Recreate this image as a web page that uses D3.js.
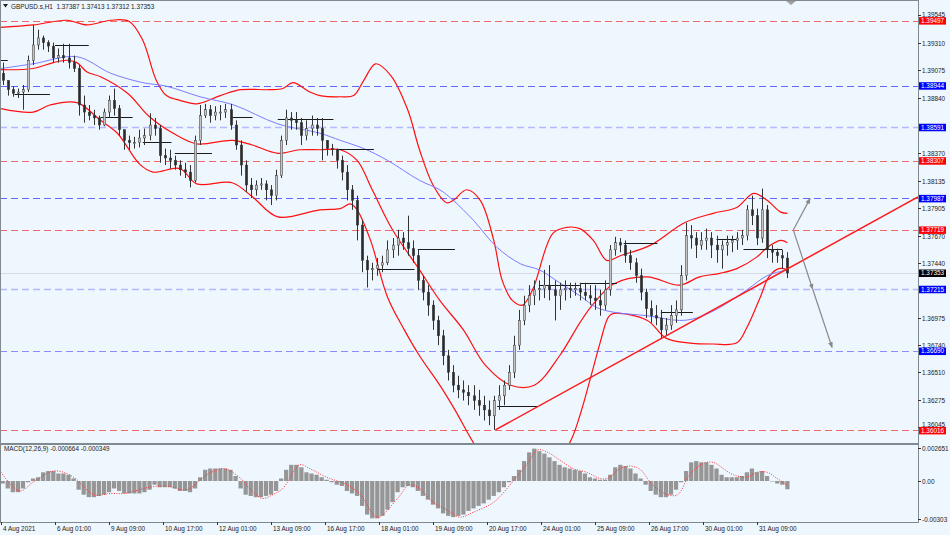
<!DOCTYPE html>
<html><head><meta charset="utf-8">
<script src="https://cdn.jsdelivr.net/npm/d3@7"></script>
<style>
body{margin:0;background:#eef6fe;}
text{font-family:"Liberation Sans",Arial,sans-serif;}
</style>
</head><body>
<svg id="c" width="950" height="535"></svg>
<script>
// ---------------- DATA ----------------
const symbolTitle = "GBPUSD.s,H1";
const titleValues = "1.37387 1.37413 1.37312 1.37353";
const macdTitle = "MACD(12,26,9) -0.000664 -0.000349";

// time axis labels, every 32 H1 bars
const timeLabels = ["4 Aug 2021","6 Aug 01:00","9 Aug 09:00","10 Aug 17:00","12 Aug 01:00","13 Aug 09:00","16 Aug 17:00","18 Aug 01:00","19 Aug 09:00","20 Aug 17:00","24 Aug 01:00","25 Aug 09:00","26 Aug 17:00","30 Aug 01:00","31 Aug 09:00"];
const timeLabelBars = [0,32,64,96,128,160,192,224,256,288,320,352,384,416,448];

// price axis (labels hidden behind level boxes in the reference are left out)
const priceTicks = [1.39545,1.39310,1.39075,1.38840,1.38370,1.38135,1.37905,1.37670,1.37440,1.36975,1.36740,1.36510,1.36275,1.36045];
const macdTicks = [0.002651,0.00,-0.00303];
const macdTickLabels = ["0.002651","0.00","-0.00303"];

// candles (3-hour groups), prices
const firstOpen = 1.3905;
const candleHigh = [
1.3914,1.3897,1.3894,1.3892,1.3895,1.3920,1.3946,1.3942,1.3937,1.3933,
1.3931,1.3926,1.3930,1.3930,1.3920,1.3912,1.3886,1.3878,1.3874,1.3869,
1.3875,1.3886,1.3892,1.3878,1.3857,1.3852,1.3851,1.3857,1.3858,1.3871,
1.3867,1.3861,1.3841,1.3840,1.3835,1.3831,1.3829,1.3827,1.3852,1.3878,
1.3879,1.3878,1.3877,1.3878,1.3879,1.3879,1.3865,1.3848,1.3831,1.3816,
1.3814,1.3816,1.3814,1.3810,1.3823,1.3852,1.3874,1.3872,1.3872,1.3867,
1.3865,1.3869,1.3867,1.3867,1.3848,1.3845,1.3841,1.3835,1.3827,1.3810,
1.3801,1.3780,1.3750,1.3744,1.3748,1.3750,1.3763,1.3765,1.3772,1.3770,
1.3784,1.3763,1.3755,1.3733,1.3725,1.3712,1.3699,1.3687,1.3670,1.3657,
1.3648,1.3644,1.3640,1.3640,1.3636,1.3631,1.3627,1.3631,1.3640,1.3644,
1.3657,1.3682,1.3704,1.3716,1.3725,1.3729,1.3729,1.3738,1.3742,1.3729,
1.3727,1.3729,1.3727,1.3727,1.3727,1.3727,1.3725,1.3725,1.3721,1.3729,
1.3759,1.3766,1.3765,1.3763,1.3755,1.3748,1.3739,1.3722,1.3712,1.3708,
1.3704,1.3697,1.3708,1.3712,1.3742,1.3778,1.3776,1.3770,1.3770,1.3773,
1.3770,1.3767,1.3763,1.3767,1.3767,1.3770,1.3772,1.3793,1.3801,1.3790,
1.3807,1.3793,1.3759,1.3756,1.3755,1.3753];
const candleLow = [
1.3895,1.3886,1.3885,1.3884,1.3874,1.3889,1.3912,1.3925,1.3925,1.3923,
1.3914,1.3914,1.3914,1.3909,1.3906,1.3869,1.3863,1.3865,1.3861,1.3857,
1.3860,1.3867,1.3869,1.3852,1.3840,1.3840,1.3841,1.3842,1.3844,1.3848,
1.3852,1.3829,1.3827,1.3824,1.3823,1.3818,1.3816,1.3808,1.3812,1.3844,
1.3867,1.3863,1.3865,1.3865,1.3867,1.3857,1.3840,1.3818,1.3804,1.3799,
1.3801,1.3806,1.3797,1.3793,1.3797,1.3816,1.3844,1.3857,1.3857,1.3844,
1.3848,1.3852,1.3852,1.3831,1.3835,1.3835,1.3824,1.3814,1.3797,1.3789,
1.3763,1.3736,1.3723,1.3729,1.3733,1.3736,1.3742,1.3748,1.3750,1.3755,
1.3750,1.3744,1.3721,1.3712,1.3699,1.3687,1.3674,1.3657,1.3644,1.3634,
1.3629,1.3627,1.3623,1.3619,1.3614,1.3610,1.3606,1.3602,1.3619,1.3623,
1.3636,1.3646,1.3670,1.3691,1.3702,1.3708,1.3712,1.3714,1.3712,1.3695,
1.3704,1.3712,1.3714,1.3716,1.3712,1.3712,1.3708,1.3704,1.3699,1.3704,
1.3716,1.3750,1.3753,1.3744,1.3738,1.3727,1.3712,1.3697,1.3693,1.3691,
1.3680,1.3682,1.3687,1.3693,1.3699,1.3729,1.3756,1.3748,1.3755,1.3755,
1.3748,1.3744,1.3739,1.3750,1.3753,1.3755,1.3759,1.3763,1.3776,1.3759,
1.3761,1.3748,1.3744,1.3744,1.3739,1.3731];
const candleClose = [
1.3899,1.3891,1.3888,1.3889,1.3891,1.3916,1.3929,1.3935,1.3931,1.3928,
1.3918,1.3920,1.3918,1.3914,1.3909,1.3878,1.3872,1.3869,1.3867,1.3861,
1.3872,1.3882,1.3875,1.3857,1.3848,1.3846,1.3846,1.3850,1.3852,1.3861,
1.3858,1.3835,1.3833,1.3831,1.3827,1.3823,1.3821,1.3814,1.3848,1.3869,
1.3874,1.3869,1.3872,1.3872,1.3874,1.3861,1.3844,1.3827,1.3810,1.3806,
1.3810,1.3811,1.3806,1.3801,1.3818,1.3848,1.3867,1.3865,1.3863,1.3852,
1.3858,1.3861,1.3858,1.3848,1.3841,1.3840,1.3831,1.3821,1.3806,1.3797,
1.3776,1.3746,1.3738,1.3739,1.3742,1.3744,1.3755,1.3759,1.3765,1.3761,
1.3756,1.3750,1.3729,1.3719,1.3708,1.3695,1.3682,1.3665,1.3651,1.3640,
1.3636,1.3634,1.3631,1.3627,1.3623,1.3619,1.3614,1.3627,1.3631,1.3640,
1.3651,1.3674,1.3695,1.3708,1.3716,1.3721,1.3722,1.3725,1.3721,1.3716,
1.3721,1.3722,1.3721,1.3722,1.3719,1.3716,1.3714,1.3712,1.3708,1.3721,
1.3755,1.3761,1.3759,1.3750,1.3744,1.3733,1.3719,1.3705,1.3699,1.3697,
1.3687,1.3691,1.3699,1.3704,1.3733,1.3767,1.3765,1.3759,1.3763,1.3765,
1.3759,1.3755,1.3759,1.3761,1.3763,1.3765,1.3767,1.3789,1.3784,1.3765,
1.3789,1.3755,1.3753,1.3750,1.3748,1.37353];

// MACD main (histogram) per candle group
const macdHist = [
-0.0002,-0.0006,-0.0009,-0.0009,-0.0006,-0.0001,0.0002,0.0003,0.0007,0.0008,
0.0008,0.0006,0.0006,0.0005,0.0002,-0.0007,-0.0011,-0.0013,-0.0013,-0.0012,
-0.0011,-0.0009,-0.0006,-0.0008,-0.001,-0.001,-0.001,-0.001,-0.0009,-0.0007,
-0.0003,-0.0005,-0.0005,-0.0005,-0.0006,-0.0008,-0.0008,-0.0009,-0.0006,0.0003,
0.0009,0.001,0.001,0.001,0.001,0.0009,0.0004,-0.0006,-0.0011,-0.0012,
-0.0013,-0.0013,-0.0012,-0.0011,-0.0008,0.0002,0.0009,0.0013,0.0013,0.0011,
0.0007,0.0006,0.0005,0.0003,0.0001,-0.0001,-0.0003,-0.0004,-0.0008,-0.001,
-0.0012,-0.002,-0.0027,-0.003,-0.003,-0.0028,-0.0023,-0.0017,-0.0009,-0.0005,
-0.0004,-0.0005,-0.0008,-0.0012,-0.0015,-0.0019,-0.0022,-0.0026,-0.0028,-0.0029,
-0.0028,-0.0027,-0.0024,-0.0022,-0.002,-0.0018,-0.0015,-0.0012,-0.0009,-0.0005,
-0.0001,0.0004,0.0009,0.0016,0.0023,0.0026,0.0024,0.0022,0.0019,0.0016,
0.0013,0.0011,0.001,0.0009,0.0008,0.0006,0.0003,0.0002,0.0001,0.0001,
0.0005,0.0011,0.0013,0.0012,0.001,0.0006,0.0002,-0.0003,-0.0008,-0.0011,
-0.0013,-0.0013,-0.0011,-0.0007,-0.0001,0.0008,0.0015,0.0016,0.0015,0.0015,
0.0013,0.001,0.0005,0.0003,0.0003,0.0003,0.0004,0.0007,0.001,0.0007,
0.0008,0.0004,0.0,-0.0002,-0.0003,-0.000664];

// MACD signal [bar, value]
const macdSignal = [[0,0.0007],[11,-0.0008],[19,-0.0001],[31,0.0008],[39,0.0006],[45,0.0001],[55,-0.0011],[65,-0.001],[73,-0.001],[88,-0.0005],[98,-0.0004],[110,-0.0007],[122,0.0005],[132,0.001],[142,0.0002],[148,-0.0007],[155,-0.0014],[161,-0.0011],[167,-0.0006],[177,0.0013],[183,0.001],[193,0.0003],[205,-0.0003],[213,-0.0011],[223,-0.0029],[235,-0.0014],[242,-0.0003],[248,-0.0006],[256,-0.0017],[264,-0.0023],[272,-0.0029],[280,-0.0025],[292,-0.0017],[303,-0.0001],[312,0.0014],[318,0.0025],[324,0.0023],[331,0.0017],[339,0.001],[347,0.0007],[355,0.0002],[359,0.0002],[367,0.001],[373,0.0012],[379,0.0009],[386,-0.0003],[395,-0.0011],[401,-0.0011],[408,0.0005],[416,0.0014],[422,0.0015],[428,0.001],[434,0.0005],[442,0.0003],[448,0.0007],[454,0.0007],[460,0.0002],[466,-0.000349]];

// Bollinger bands [bar, price]
const bbUpper = [[0,1.3944],[19,1.3946],[39,1.3950],[51,1.3946],[65,1.3950],[76,1.3949],[84,1.3933],[92,1.3899],[98,1.3886],[106,1.3882],[116,1.3879],[130,1.3886],[142,1.3891],[159,1.3891],[167,1.3892],[173,1.3897],[183,1.3889],[189,1.3886],[201,1.3885],[209,1.3886],[215,1.3899],[222,1.3913],[231,1.3903],[241,1.3874],[248,1.3840],[256,1.3810],[264,1.3795],[268,1.3797],[276,1.3806],[284,1.3797],[292,1.3763],[297,1.3729],[303,1.3712],[309,1.3708],[315,1.3721],[327,1.3769],[335,1.3774],[343,1.3773],[351,1.3763],[359,1.3746],[367,1.3750],[385,1.3759],[405,1.3778],[422,1.3786],[436,1.3791],[446,1.3803],[454,1.3797],[462,1.3787],[466,1.3786]];
const bbMiddle = [[0,1.3908],[19,1.3909],[31,1.3914],[39,1.3916],[45,1.3914],[51,1.3906],[59,1.3902],[75,1.3888],[88,1.3868],[102,1.3854],[116,1.3845],[137,1.3848],[149,1.3844],[164,1.3837],[177,1.3840],[189,1.3840],[201,1.3840],[211,1.3831],[220,1.3806],[232,1.3772],[248,1.3738],[260,1.3712],[274,1.3687],[287,1.3657],[302,1.3640],[316,1.3640],[331,1.3665],[343,1.3693],[351,1.3709],[363,1.3726],[383,1.3732],[402,1.3725],[414,1.3732],[426,1.3735],[436,1.3739],[448,1.3749],[454,1.3757],[462,1.3763],[466,1.3761]];
const bbLower = [[0,1.3875],[19,1.3872],[29,1.3878],[45,1.3880],[59,1.3865],[69,1.3854],[82,1.3828],[90,1.3821],[106,1.3824],[116,1.3811],[137,1.3812],[149,1.3800],[164,1.3783],[189,1.3789],[201,1.3790],[207,1.3794],[211,1.3789],[219,1.3763],[229,1.3715],[239,1.3687],[248,1.3665],[260,1.3640],[269,1.3619],[280,1.3591],[293,1.3564],[308,1.3551],[322,1.3561],[337,1.3591],[343,1.3614],[351,1.3655],[355,1.3676],[360,1.3698],[363,1.3701],[383,1.3695],[394,1.3680],[407,1.3676],[422,1.3675],[436,1.3676],[442,1.3689],[450,1.3715],[455,1.3732],[461,1.3739],[466,1.3738]];

// moving average [bar, price]
const maLine = [[0,1.3909],[19,1.3913],[45,1.3919],[65,1.3905],[84,1.3897],[98,1.3894],[118,1.3885],[138,1.3878],[164,1.3862],[189,1.3854],[201,1.3848],[215,1.3841],[229,1.3831],[248,1.3814],[260,1.3806],[268,1.3797],[280,1.3780],[294,1.3757],[308,1.3743],[319,1.3738],[331,1.3727],[343,1.3716],[353,1.3706],[363,1.3702],[383,1.3699],[402,1.3695],[412,1.3697],[426,1.3706],[442,1.3721],[454,1.3733],[466,1.3738]];

// daily segments [startBar, endBar, price]
const daySegments = [[0,4,1.3916],[8,29,1.3887],[32,52,1.3929],[59,78,1.3868],[84,101,1.3847],[103,125,1.3837],[137,149,1.3868],[164,197,1.3866],[199,221,1.3841],[223,245,1.3739],[247,269,1.3756],[294,318,1.3622],[319,343,1.3725],[343,365,1.3727],[369,389,1.3761],[391,410,1.3702],[424,436,1.3764],[440,463,1.3756]];

// horizontal levels
const levelPrices = [1.39497,1.38944,1.38591,1.38307,1.37987,1.37719,1.37215,1.36690,1.36016];
const levelKinds  = ["red","blue","light","red","blue","red","light","blue2","red"];
const currentPrice = 1.37353;

// trend line and arrows [bar, price]
const trendLine = [[293,1.3602],[543.4,1.3800]];
const arrowUp = [[469.5,1.37719],[479.5,1.37987]];
const arrowDown1 = [[469.5,1.37719],[481,1.37215]];
const arrowDown2 = [[481,1.37215],[492.5,1.3672]];

// ---------------- DRAW ----------------
const svg = d3.select("#c");
const BG = "#eef6fe";
const AX = "#808890";
const RIGHT = 918, MAIN_BOT = 443, MACD_TOP = 445, MACD_BOT = 522;

const x = d3.scaleLinear().domain([0, 543.4]).range([1, RIGHT]);
const y = d3.scaleLinear().domain([1.35909, 1.39672]).range([MAIN_BOT, 0]);
const ym = d3.scaleLinear().domain([-0.003294, 0.002892]).range([MACD_BOT, MACD_TOP]);
const step = x(3) - x(0);

svg.append("rect").attr("width", 950).attr("height", 535).attr("fill", BG);

const defs = svg.append("defs");
defs.append("clipPath").attr("id", "cm").append("rect").attr("x", 0).attr("y", 0).attr("width", RIGHT).attr("height", MAIN_BOT);
defs.append("clipPath").attr("id", "cd").append("rect").attr("x", 0).attr("y", MACD_TOP).attr("width", RIGHT).attr("height", MACD_BOT - MACD_TOP);
defs.append("marker").attr("id", "ah").attr("viewBox", "0 0 10 10").attr("refX", 9).attr("refY", 5)
  .attr("markerWidth", 5).attr("markerHeight", 5).attr("orient", "auto-start-reverse")
  .append("path").attr("d", "M0,1 L10,5 L0,9 z").attr("fill", "#8a8a8a");

const gMain = svg.append("g").attr("clip-path", "url(#cm)");
const gMacd = svg.append("g").attr("clip-path", "url(#cd)");

// levels
const levelStyle = {
  red:   {c: "#f06a6a", w: 1, d: "7,4", box: "#ff0000"},
  blue:  {c: "#6464ff", w: 1, d: "7,4", box: "#0000ff"},
  blue2: {c: "#8c8cff", w: 1, d: "7,4", box: "#0000ff"},
  light: {c: "#b4b8ff", w: 1.6, d: "7,4", box: "#0000ff"}
};
levelPrices.forEach((p, i) => {
  const s = levelStyle[levelKinds[i]];
  const yy = Math.round(y(p)) + 0.5;
  gMain.append("line").attr("x1", 0).attr("x2", RIGHT).attr("y1", yy).attr("y2", yy)
    .attr("stroke", s.c).attr("stroke-width", s.w).attr("stroke-dasharray", s.d);
});
// current price line
{
  const yy = Math.round(y(currentPrice)) + 0.5;
  gMain.append("line").attr("x1", 0).attr("x2", RIGHT).attr("y1", yy).attr("y2", yy)
    .attr("stroke", "#d6dce2").attr("stroke-width", 1);
}

// Bollinger + MA
const lineGen = d3.line().x(d => x(d[0])).y(d => y(d[1])).curve(d3.curveCatmullRom.alpha(0.5));
[bbUpper, bbMiddle, bbLower].forEach(arr => {
  gMain.append("path").attr("d", lineGen(arr)).attr("fill", "none").attr("stroke", "#ff1010").attr("stroke-width", 1.2);
});
gMain.append("path").attr("d", lineGen(maLine)).attr("fill", "none").attr("stroke", "#7c7cff").attr("stroke-width", 1);

// daily segments
daySegments.forEach(s => {
  const yy = Math.round(y(s[2])) + 0.5;
  gMain.append("line").attr("x1", x(s[0])).attr("x2", x(s[1])).attr("y1", yy).attr("y2", yy)
    .attr("stroke", "#1a1a1a").attr("stroke-width", 1);
});

// candles
candleClose.forEach((c, k) => {
  const o = k === 0 ? firstOpen : candleClose[k - 1];
  const cx = Math.round(x(3 * k + 1)) + 0.5;
  gMain.append("line").attr("x1", cx).attr("x2", cx)
    .attr("y1", y(candleHigh[k])).attr("y2", y(candleLow[k]))
    .attr("stroke", "#333").attr("stroke-width", 1);
  const top = y(Math.max(o, c)), bot = y(Math.min(o, c));
  gMain.append("rect").attr("x", cx - 1.2).attr("width", 2.4)
    .attr("y", top).attr("height", Math.max(1, bot - top))
    .attr("fill", c >= o ? "#c4c4c4" : "#2a2a2a").attr("stroke", "#3a3a3a").attr("stroke-width", 0.5);
});

// trend line
gMain.append("line").attr("x1", x(trendLine[0][0])).attr("y1", y(trendLine[0][1]))
  .attr("x2", x(trendLine[1][0])).attr("y2", y(trendLine[1][1]))
  .attr("stroke", "#ff1a1a").attr("stroke-width", 1.5);

// arrows
[arrowUp, arrowDown1, arrowDown2].forEach(a => {
  gMain.append("line").attr("x1", x(a[0][0])).attr("y1", y(a[0][1]))
    .attr("x2", x(a[1][0])).attr("y2", y(a[1][1]))
    .attr("stroke", "#8a8a8a").attr("stroke-width", 1.2).attr("marker-end", "url(#ah)");
});

// MACD histogram
macdHist.forEach((v, k) => {
  const cx = x(3 * k + 1);
  const y0 = ym(0), y1 = ym(v);
  gMacd.append("rect").attr("x", cx - step / 2 + 0.4).attr("width", step - 0.8)
    .attr("y", Math.min(y0, y1)).attr("height", Math.max(0.5, Math.abs(y1 - y0)))
    .attr("fill", "#969696");
});
const sigGen = d3.line().x(d => x(d[0])).y(d => ym(d[1])).curve(d3.curveCatmullRom.alpha(0.5));
gMacd.append("path").attr("d", sigGen(macdSignal)).attr("fill", "none")
  .attr("stroke", "#ff3030").attr("stroke-width", 1).attr("stroke-dasharray", "1,1.5");

// frame
const frame = svg.append("g").attr("stroke", AX).attr("fill", "none");
frame.append("line").attr("x1", 0.5).attr("x2", 0.5).attr("y1", 0).attr("y2", MACD_BOT);
frame.append("line").attr("x1", 0).attr("x2", RIGHT).attr("y1", 0.5).attr("y2", 0.5);
frame.append("line").attr("x1", RIGHT + 0.5).attr("x2", RIGHT + 0.5).attr("y1", 0).attr("y2", MACD_BOT + 1);
frame.append("line").attr("x1", 0).attr("x2", RIGHT).attr("y1", MAIN_BOT + 1).attr("y2", MAIN_BOT + 1).attr("stroke-width", 2);
frame.append("line").attr("x1", 0).attr("x2", RIGHT + 1).attr("y1", MACD_BOT + 0.5).attr("y2", MACD_BOT + 0.5);

// shift marker
svg.append("path").attr("d", "M786,1 L796,1 L791,5 Z").attr("fill", "#a0a0a0");

// right price axis
const FS = 6.4;
const ra = svg.append("g");
priceTicks.forEach(p => {
  const yy = Math.round(y(p)) + 0.5;
  ra.append("line").attr("x1", RIGHT).attr("x2", RIGHT + 3).attr("y1", yy).attr("y2", yy).attr("stroke", "#333");
  // nudge labels that would sit under a level box
  let ty = yy + 2.3;
  if (p === 1.39545) ty = yy + 1.3;
  if (p === 1.36045) ty = yy - 0.8;
  ra.append("text").attr("x", RIGHT + 4).attr("y", ty).attr("font-size", FS).attr("fill", "#222").text(p.toFixed(5));
});
// level labels
levelPrices.forEach((p, i) => {
  const s = levelStyle[levelKinds[i]];
  const yy = y(p);
  ra.append("rect").attr("x", RIGHT + 1).attr("y", yy - 3.5).attr("width", 27).attr("height", 7.5).attr("fill", s.box);
  ra.append("text").attr("x", RIGHT + 3).attr("y", yy + 2.4).attr("font-size", FS).attr("fill", "#fff").text(p.toFixed(5));
});
{
  const yy = y(currentPrice);
  ra.append("rect").attr("x", RIGHT + 1).attr("y", yy - 3.5).attr("width", 27).attr("height", 7.5).attr("fill", "#000");
  ra.append("text").attr("x", RIGHT + 3).attr("y", yy + 2.4).attr("font-size", FS).attr("fill", "#fff").text(currentPrice.toFixed(5));
}
// macd axis
macdTicks.forEach((v, i) => {
  const yy = Math.round(ym(v)) + 0.5;
  ra.append("line").attr("x1", RIGHT).attr("x2", RIGHT + 3).attr("y1", yy).attr("y2", yy).attr("stroke", "#333");
  ra.append("text").attr("x", RIGHT + 4).attr("y", yy + 2.3).attr("font-size", FS).attr("fill", "#222").text(macdTickLabels[i]);
});

// bottom time axis
timeLabelBars.forEach((b, i) => {
  const xx = Math.round(x(b)) + 0.5;
  svg.append("line").attr("x1", xx).attr("x2", xx).attr("y1", MACD_BOT).attr("y2", MACD_BOT + 3).attr("stroke", "#333");
  svg.append("text").attr("x", xx + 1.5).attr("y", 531).attr("font-size", FS).attr("fill", "#222").text(timeLabels[i]);
});

// titles
svg.append("path").attr("d", "M3,4 L8,4 L5.5,7.5 Z").attr("fill", "#222");
svg.append("text").attr("x", 11).attr("y", 9).attr("font-size", FS).attr("fill", "#222")
  .style("white-space", "pre").text(symbolTitle + "  " + titleValues);
svg.append("text").attr("x", 4).attr("y", 451).attr("font-size", FS).attr("fill", "#222").text(macdTitle);
</script>
</body></html>
